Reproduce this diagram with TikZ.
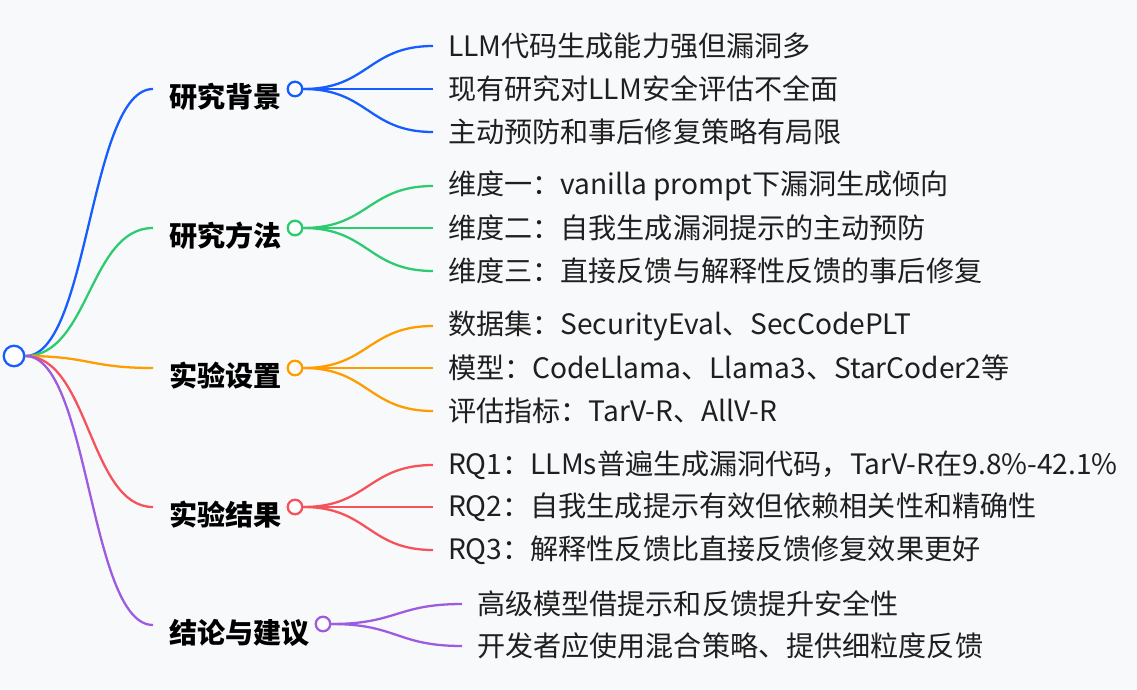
\documentclass[tikz,border=0pt]{standalone}
\usepackage{fontspec}
\usepackage{xcolor}
\usepackage{tikz}
\usetikzlibrary{calc}
\setmainfont{Noto Sans CJK SC}
\definecolor{fons}{HTML}{F8F9FB}
\definecolor{blau}{HTML}{165DFF}
\definecolor{verd}{HTML}{2DCB70}
\definecolor{taronja}{HTML}{FF9D00}
\definecolor{vermell}{HTML}{F5525C}
\definecolor{lila}{HTML}{9D5CE0}
\definecolor{tinta}{HTML}{1F1F1F}

\tikzset{
	enllac/.style={to path={let \p1=(\tikztostart), \p2=(\tikztotarget) in
		.. controls ({(\x1+\x2)/2},\y1) and ({(\x1+\x2)/2},\y2) .. (\tikztotarget)}},
	bola/.style={circle, draw=#1, fill=white, inner sep=0pt, minimum size=0.29cm},
	tema/.style={anchor=west, inner sep=0pt, font=\fontsize{16}{19}\selectfont\bfseries},
	fulla/.style={anchor=west, inner ysep=0pt, inner xsep=0.28cm, text=tinta, font=\fontsize{16}{19}\selectfont},
}

\begin{document}
\begin{tikzpicture}[x=0.02cm, y=-0.02cm, line width=1.3pt]
	% fons
	\fill[fons] (0,0) rectangle (1137,690);
	\useasboundingbox (0,0) rectangle (1137,690);
	% arrel
	\node[bola=blau, minimum size=0.41cm] (arrel) at (14,356) {};
	% branques
	\coordinate (c1) at (153,89);
	\coordinate (c2) at (153,228);
	\coordinate (c3) at (153,368);
	\coordinate (c4) at (153,507);
	\coordinate (c5) at (153,625);
	\draw[blau] (arrel.east) to[enllac] (c1);
	\draw[verd] (arrel.east) to[enllac] (c2);
	\draw[taronja] (arrel.east) to[enllac] (c3);
	\draw[vermell] (arrel.east) to[enllac] (c4);
	\draw[lila] (arrel.east) to[enllac] (c5);
	\node[tema] (t1) at (168,97) {研究背景};
	\node[tema] (t2) at (168,236) {研究方法};
	\node[tema] (t3) at (168,376) {实验设置};
	\node[tema] (t4) at (168,515) {实验结果};
	\node[tema] (t5) at (168,633) {结论与建议};
	% fulles: 研究背景
	\node[fulla] (f11) at (433,46) {LLM代码生成能力强但漏洞多};
	\node[fulla] (f12) at (433,89) {现有研究对LLM安全评估不全面};
	\node[fulla] (f13) at (433,132) {主动预防和事后修复策略有局限};
	\node[bola=blau] (b1) at (295,89) {};
	\draw[blau] (b1.east) to[enllac] (f11.west);
	\draw[blau] (b1.east) to[enllac] (f12.west);
	\draw[blau] (b1.east) to[enllac] (f13.west);
	% fulles: 研究方法
	\node[fulla] (f21) at (433,186) {维度一：vanilla prompt下漏洞生成倾向};
	\node[fulla] (f22) at (433,228) {维度二：自我生成漏洞提示的主动预防};
	\node[fulla] (f23) at (433,271) {维度三：直接反馈与解释性反馈的事后修复};
	\node[bola=verd] (b2) at (295,228) {};
	\draw[verd] (b2.east) to[enllac] (f21.west);
	\draw[verd] (b2.east) to[enllac] (f22.west);
	\draw[verd] (b2.east) to[enllac] (f23.west);
	% fulles: 实验设置
	\node[fulla] (f31) at (433,326) {数据集：SecurityEval、SecCodePLT};
	\node[fulla] (f32) at (433,368) {模型：CodeLlama、Llama3、StarCoder2等};
	\node[fulla] (f33) at (433,411) {评估指标：TarV-R、AllV-R};
	\node[bola=taronja] (b3) at (295,368) {};
	\draw[taronja] (b3.east) to[enllac] (f31.west);
	\draw[taronja] (b3.east) to[enllac] (f32.west);
	\draw[taronja] (b3.east) to[enllac] (f33.west);
	% fulles: 实验结果
	\node[fulla] (f41) at (433,465) {RQ1：LLMs普遍生成漏洞代码，TarV-R在9.8\%-42.1\%};
	\node[fulla] (f42) at (433,507) {RQ2：自我生成提示有效但依赖相关性和精确性};
	\node[fulla] (f43) at (433,550) {RQ3：解释性反馈比直接反馈修复效果更好};
	\node[bola=vermell] (b4) at (295,507) {};
	\draw[vermell] (b4.east) to[enllac] (f41.west);
	\draw[vermell] (b4.east) to[enllac] (f42.west);
	\draw[vermell] (b4.east) to[enllac] (f43.west);
	% fulles: 结论与建议
	\node[fulla] (f51) at (462,604) {高级模型借提示和反馈提升安全性};
	\node[fulla] (f52) at (462,646) {开发者应使用混合策略、提供细粒度反馈};
	\node[bola=lila] (b5) at (323,624) {};
	\draw[lila] (b5.east) to[enllac] (f51.west);
	\draw[lila] (b5.east) to[enllac] (f52.west);
\end{tikzpicture}
\end{document}
